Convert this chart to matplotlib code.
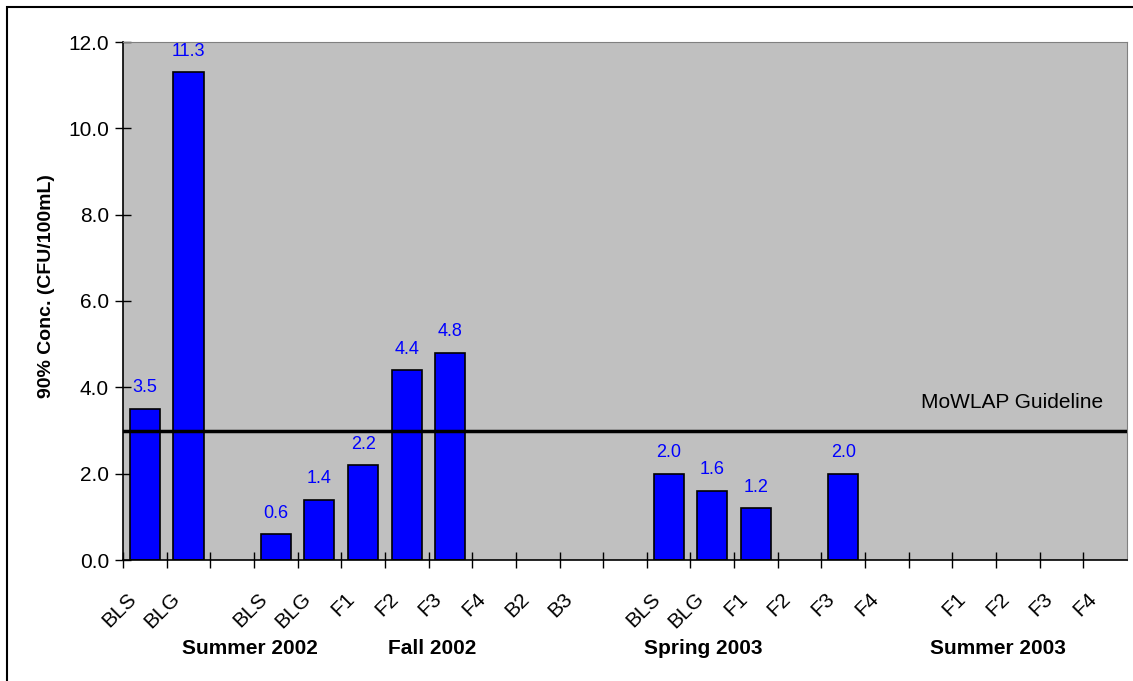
import matplotlib
matplotlib.use("Agg")
import matplotlib.pyplot as plt
import matplotlib.transforms as mtransforms
from matplotlib.patches import Rectangle
import numpy as np

plt.rcParams['font.family'] = ['Liberation Sans', 'DejaVu Sans']

## categories along the x axis (blank ones are spacer slots)
site_labels = ["BLS", "BLG", "", "BLS", "BLG", "F1", "F2", "F3", "F4", "B2", "B3", "",
               "BLS", "BLG", "F1", "F2", "F3", "F4", "", "F1", "F2", "F3", "F4"]
## 90% concentration values, nan = no sample
conc_90 = [3.5, 11.3, np.nan, 0.6, 1.4, 2.2, 4.4, 4.8, np.nan, np.nan, np.nan, np.nan,
           2.0, 1.6, 1.2, np.nan, 2.0, np.nan, np.nan, np.nan, np.nan, np.nan, np.nan]
## season labels and where they sit (category units)
seasons = ["Summer 2002", "Fall 2002", "Spring 2003", "Summer 2003"]
season_pos = [2.41, 6.58, 12.79, 19.55]
guideline = 3.0

fig = plt.figure(figsize=(11.33, 6.81), dpi=100)
ax = fig.add_axes([123/1133, 121/681, 1004/1133, 518/681])
ax.set_facecolor("#C0C0C0")

x = np.arange(len(site_labels))
vals = np.array(conc_90, dtype=float)
has = ~np.isnan(vals)
ax.bar(x[has], vals[has], width=0.69, color="#0000FF", edgecolor="black", linewidth=1.2, zorder=2)

for xi, v in zip(x[has], vals[has]):
    ax.annotate(f"{v:.1f}", (xi, v), xytext=(0, 9), textcoords="offset points",
                ha="center", va="bottom", color="#0000FF", fontsize=13)

ax.axhline(guideline, color="black", linewidth=2.5, zorder=3)
ax.text(21.95, 3.66, "MoWLAP Guideline", ha="right", va="center", fontsize=15)

ax.set_xlim(-0.5, len(site_labels) - 0.5)
ax.set_ylim(0, 12)
ax.set_yticks(np.arange(0, 12.1, 2.0))
ax.set_yticklabels([f"{t:.1f}" for t in np.arange(0, 12.1, 2.0)], fontsize=15)
ax.tick_params(axis="y", direction="inout", length=12, width=1, pad=4)

# tick marks on category boundaries, labels on centers
ax.set_xticks(np.arange(-0.5, len(site_labels) - 0.5, 1.0))
ax.set_xticklabels([])
ax.tick_params(axis="x", which="major", direction="inout", length=12, width=1)
ax.set_xticks(x, minor=True)
ax.set_xticklabels(site_labels, minor=True, rotation=45, ha="right", va="top", fontsize=15)
ax.tick_params(axis="x", which="minor", length=0, pad=21)
shift = mtransforms.ScaledTranslation(-5/100, 0, fig.dpi_scale_trans)
for lab in ax.get_xticklabels(minor=True):
    lab.set_transform(lab.get_transform() + shift)

for sp in ["top", "right"]:
    ax.spines[sp].set_color("#808080")
for sp in ["left", "bottom"]:
    ax.spines[sp].set_color("black")
    ax.spines[sp].set_linewidth(1.2)

ax.set_ylabel("90% Conc. (CFU/100mL)", fontsize=14, fontweight="bold")
ax.yaxis.set_label_coords(-68/1004, (560-286)/518)

trans = mtransforms.blended_transform_factory(ax.transData, ax.transAxes)
for name, pos in zip(seasons, season_pos):
    ax.text(pos, -88/518, name, transform=trans, ha="center", va="center",
            fontsize=15, fontweight="bold")

fig.patches.append(Rectangle((7/1133, -0.1), 2, 1.1 - 7/681, transform=fig.transFigure,
                             fill=False, edgecolor="black", linewidth=1.5))

fig.savefig("out.png", dpi=100)
